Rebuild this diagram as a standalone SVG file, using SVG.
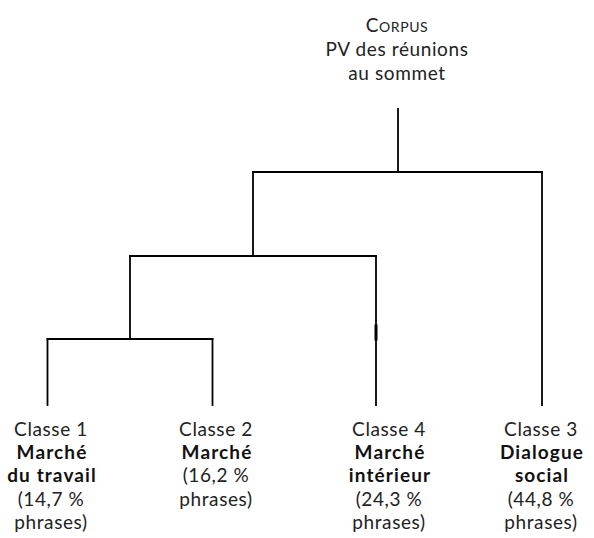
<svg xmlns="http://www.w3.org/2000/svg" width="594" height="538" viewBox="0 0 594 538">
<style>
.t{font-family:Lato,"Open Sans","DejaVu Sans",sans-serif;font-size:19px;letter-spacing:0.6px;fill:#222;text-anchor:middle}
.b{font-weight:bold;fill:#111;letter-spacing:1.1px}
.sc{font-size:14px}
.c line{stroke:#000;stroke-width:1.8;stroke-linecap:square;fill:none}
</style>
<rect width="594" height="538" fill="#fff"/>
<g id="root">
<text class="t" x="397" y="32">C<tspan class="sc">ORPUS</tspan></text>
<text class="t" x="397" y="56">PV des réunions</text>
<text class="t" x="397" y="80">au sommet</text>
</g>
<g class="c" id="connectors">
<line x1="398" y1="109" x2="398" y2="172"/>
<line x1="253" y1="172" x2="542" y2="172"/>
<line x1="253" y1="172" x2="253" y2="256"/>
<line x1="542" y1="172" x2="542" y2="405"/>
<line x1="130" y1="256" x2="376" y2="256"/>
<line x1="130" y1="256" x2="130" y2="339"/>
<line x1="376" y1="256" x2="376" y2="405"/>
<line x1="47.5" y1="339" x2="212.5" y2="339"/>
<line x1="47.5" y1="339" x2="47.5" y2="405"/>
<line x1="212.5" y1="339" x2="212.5" y2="405"/>
<line x1="376" y1="326" x2="376" y2="339" style="stroke-width:3"/>
</g>
<g id="classe1">
<text class="t" x="51" y="436">Classe 1</text>
<text class="t b" x="52" y="459">Marché</text>
<text class="t b" x="52" y="482">du travail</text>
<text class="t" x="51" y="506">(14,7 %</text>
<text class="t" x="51" y="529">phrases)</text>
</g>
<g id="classe2">
<text class="t" x="216" y="436">Classe 2</text>
<text class="t b" x="217" y="459">Marché</text>
<text class="t" x="216" y="482">(16,2 %</text>
<text class="t" x="216" y="506">phrases)</text>
</g>
<g id="classe4">
<text class="t" x="389" y="436">Classe 4</text>
<text class="t b" x="390" y="459">Marché</text>
<text class="t b" x="390" y="482">intérieur</text>
<text class="t" x="389" y="506">(24,3 %</text>
<text class="t" x="389" y="529">phrases)</text>
</g>
<g id="classe3">
<text class="t" x="541" y="436">Classe 3</text>
<text class="t b" x="542" y="459">Dialogue</text>
<text class="t b" x="542" y="482">social</text>
<text class="t" x="541" y="506">(44,8 %</text>
<text class="t" x="541" y="529">phrases)</text>
</g>
</svg>
